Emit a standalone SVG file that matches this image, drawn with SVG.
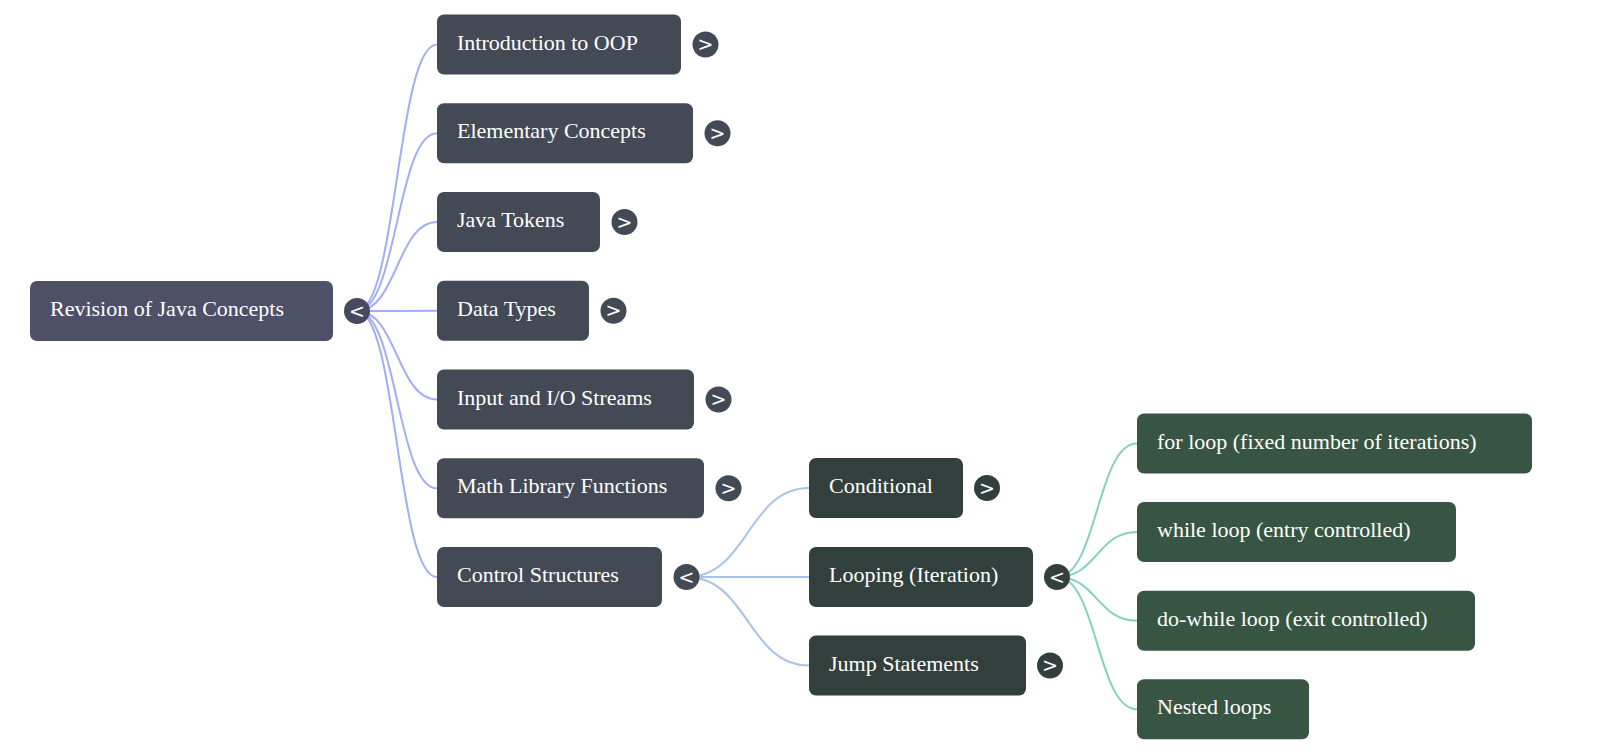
<svg xmlns="http://www.w3.org/2000/svg" width="1600" height="754" viewBox="0 0 1600 754">
<style>
.t{font-family:"Liberation Serif","Times New Roman",serif;font-size:22px;fill:#ffffff}
.root rect{fill:#4e5068}
.l1 rect{fill:#434a55}
.l2 rect{fill:#31403c}
.l3 rect{fill:#385543}
.tg{font-family:"DejaVu Sans","Liberation Sans",sans-serif;font-size:19px;fill:#ffffff;text-anchor:middle}
.c1{fill:#434a55}
.c0{fill:#474a5e}
.c2{fill:#31403c}
.e1{fill:none;stroke:#a3adf5;stroke-width:2}
.e2{fill:none;stroke:#a9c3e6;stroke-width:2}
.e3{fill:none;stroke:#86d1bd;stroke-width:2}
</style>
<rect width="1600" height="754" fill="#ffffff"/>
<g id="connectors">
<path class="e1" d="M357 311 C397 311 397 44.5 437 44.5"/>
<path class="e1" d="M357 311 C397 311 397 133.3 437 133.3"/>
<path class="e1" d="M357 311 C397 311 397 222 437 222"/>
<path class="e1" d="M357 311 C397 311 397 310.8 437 310.8"/>
<path class="e1" d="M357 311 C397 311 397 399.5 437 399.5"/>
<path class="e1" d="M357 311 C397 311 397 488.3 437 488.3"/>
<path class="e1" d="M357 311 C397 311 397 577 437 577"/>
<path class="e2" d="M686.5 577 C748 577 748 488 809 488"/>
<path class="e2" d="M686.5 577 C748 577 748 577 809 577"/>
<path class="e2" d="M686.5 577 C748 577 748 665.5 809 665.5"/>
<path class="e3" d="M1057 577 C1097 577 1097 443.5 1137 443.5"/>
<path class="e3" d="M1057 577 C1097 577 1097 532 1137 532"/>
<path class="e3" d="M1057 577 C1097 577 1097 620.7 1137 620.7"/>
<path class="e3" d="M1057 577 C1097 577 1097 709.3 1137 709.3"/>
</g>
<g id="root" class="root">
<rect x="30" y="281" width="303" height="60" rx="7"/>
<text class="t" x="50" y="316">Revision of Java Concepts</text>
<circle class="c0" cx="357" cy="311" r="13"/>
<text class="tg" x="357" y="317.5">&lt;</text>
</g>
<g id="intro" class="l1">
<rect x="437" y="14.5" width="244" height="60" rx="7"/>
<text class="t" x="457" y="49.5">Introduction to OOP</text>
<circle class="c1" cx="705.5" cy="44.5" r="13"/>
<text class="tg" x="705.5" y="51">&gt;</text>
</g>
<g id="elementary" class="l1">
<rect x="437" y="103.3" width="256" height="60" rx="7"/>
<text class="t" x="457" y="138.3">Elementary Concepts</text>
<circle class="c1" cx="717.5" cy="133.3" r="13"/>
<text class="tg" x="717.5" y="139.8">&gt;</text>
</g>
<g id="tokens" class="l1">
<rect x="437" y="192" width="163" height="60" rx="7"/>
<text class="t" x="457" y="227">Java Tokens</text>
<circle class="c1" cx="624.5" cy="222" r="13"/>
<text class="tg" x="624.5" y="228.5">&gt;</text>
</g>
<g id="datatypes" class="l1">
<rect x="437" y="280.8" width="152" height="60" rx="7"/>
<text class="t" x="457" y="315.8">Data Types</text>
<circle class="c1" cx="613.5" cy="310.8" r="13"/>
<text class="tg" x="613.5" y="317.3">&gt;</text>
</g>
<g id="input" class="l1">
<rect x="437" y="369.5" width="257" height="60" rx="7"/>
<text class="t" x="457" y="404.5">Input and I/O Streams</text>
<circle class="c1" cx="718.5" cy="399.5" r="13"/>
<text class="tg" x="718.5" y="406">&gt;</text>
</g>
<g id="math" class="l1">
<rect x="437" y="458.3" width="267" height="60" rx="7"/>
<text class="t" x="457" y="493.3">Math Library Functions</text>
<circle class="c1" cx="728.5" cy="488.3" r="13"/>
<text class="tg" x="728.5" y="494.8">&gt;</text>
</g>
<g id="control" class="l1">
<rect x="437" y="547" width="225" height="60" rx="7"/>
<text class="t" x="457" y="582">Control Structures</text>
<circle class="c1" cx="686.5" cy="577" r="13"/>
<text class="tg" x="686.5" y="583.5">&lt;</text>
</g>
<g id="conditional" class="l2">
<rect x="809" y="458" width="154" height="60" rx="7"/>
<text class="t" x="829" y="493">Conditional</text>
<circle class="c2" cx="987" cy="488" r="13"/>
<text class="tg" x="987" y="494.5">&gt;</text>
</g>
<g id="looping" class="l2">
<rect x="809" y="547" width="224" height="60" rx="7"/>
<text class="t" x="829" y="582">Looping (Iteration)</text>
<circle class="c2" cx="1057" cy="577" r="13"/>
<text class="tg" x="1057" y="583.5">&lt;</text>
</g>
<g id="jump" class="l2">
<rect x="809" y="635.5" width="217" height="60" rx="7"/>
<text class="t" x="829" y="670.5">Jump Statements</text>
<circle class="c2" cx="1050" cy="665.5" r="13"/>
<text class="tg" x="1050" y="672">&gt;</text>
</g>
<g id="forloop" class="l3">
<rect x="1137" y="413.5" width="395" height="60" rx="7"/>
<text class="t" x="1157" y="448.5">for loop (fixed number of iterations)</text>
</g>
<g id="whileloop" class="l3">
<rect x="1137" y="502" width="319" height="60" rx="7"/>
<text class="t" x="1157" y="537">while loop (entry controlled)</text>
</g>
<g id="dowhile" class="l3">
<rect x="1137" y="590.7" width="338" height="60" rx="7"/>
<text class="t" x="1157" y="625.7">do-while loop (exit controlled)</text>
</g>
<g id="nested" class="l3">
<rect x="1137" y="679.3" width="172" height="60" rx="7"/>
<text class="t" x="1157" y="714.3">Nested loops</text>
</g>
</svg>
